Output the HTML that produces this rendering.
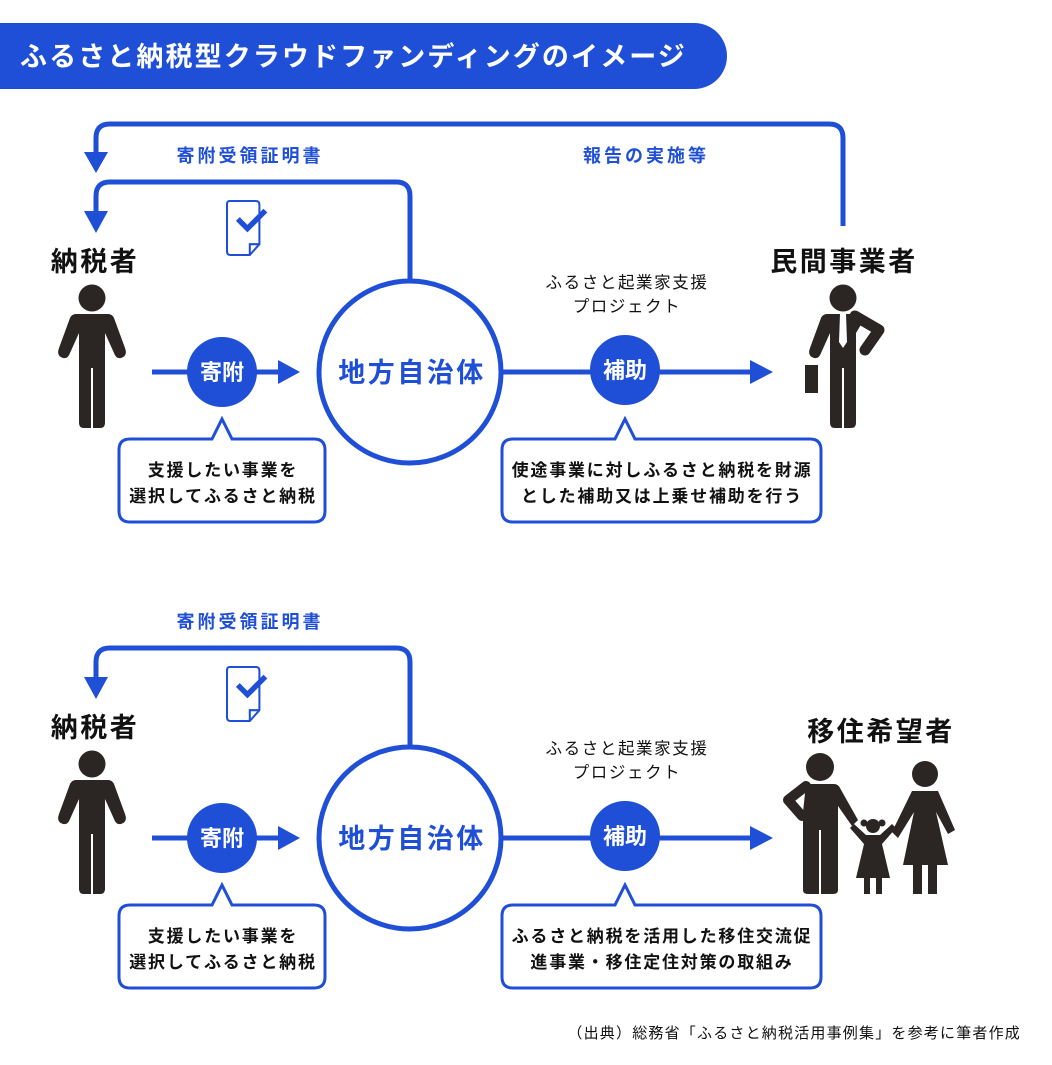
<!DOCTYPE html>
<html><head><meta charset="utf-8"><style>
html,body{margin:0;padding:0;background:#fff}
svg{display:block}
text{font-family:"Liberation Sans","Noto Sans CJK JP",sans-serif}
.b{fill:#1f4fd6;font-weight:bold}
.k{fill:#111;font-weight:bold}
.lab{font-size:18px;letter-spacing:3px}
.co{font-size:17px;letter-spacing:1.8px}
.pj{font-size:16.5px;letter-spacing:1.6px;font-weight:normal;fill:#111}
.nm{font-size:27px;letter-spacing:2.5px}
.ct{font-size:27px;letter-spacing:2.5px}
</style></head><body>
<svg width="1052" height="1065" viewBox="0 0 1052 1065" xmlns="http://www.w3.org/2000/svg">
<defs>
  <g id="doc">
    <path d="M2 0 H24 Q27 0 27 3 V36 L19 45 H3 Q0 45 0 42 V3 Q0 0 2 0Z" fill="none" stroke="#1f4fd6" stroke-width="1.7"/>
    <path d="M27 36 L19 36 L19 45" fill="none" stroke="#1f4fd6" stroke-width="1.7"/>
    <path d="M9 15 L17 23 L32 8" fill="none" stroke="#1f4fd6" stroke-width="4.5"/>
  </g>
  <g id="man" fill="#2b2523">
    <circle cx="0" cy="0" r="13.5"/>
    <path d="M-16 16 H16 Q20 16 22 20 L33 50 Q36 58 29 60 Q24 61 22 55 L13 35 V125 Q13 130 8 130 H-8 Q-13 130 -13 125 V35 L-22 55 Q-24 61 -29 60 Q-36 58 -33 50 L-22 20 Q-20 16 -16 16Z"/>
    <rect x="-1" y="70" width="2" height="60" fill="#fff"/>
  </g>
  <g id="biz" fill="#2b2523">
    <circle cx="0" cy="0" r="13.5"/>
    <path d="M-16 16 H16 Q20 16 22 20 L13 35 V125 Q13 130 8 130 H-8 Q-13 130 -13 125 V35 L-22 55 Q-24 61 -29 60 Q-36 58 -33 50 L-22 20 Q-20 16 -16 16Z"/>
    <path d="M12 18 L36 32 L22 52" fill="none" stroke="#2b2523" stroke-width="11" stroke-linecap="round" stroke-linejoin="round"/>
    <rect x="-1" y="70" width="2" height="60" fill="#fff"/>
    <path d="M-3 16 H3 L4 44 L0 50 L-4 44Z" fill="#fff"/>
    <rect x="-38" y="67" width="13" height="28"/>
  </g>
</defs>

<!-- header -->
<path d="M0 23 H694 A33 33 0 0 1 694 89 H0Z" fill="#1f4fd6"/>
<text x="20" y="66" font-size="27" font-weight="bold" fill="#fff" letter-spacing="2.1">ふるさと納税型クラウドファンディングのイメージ</text>

<!-- ===== TOP ===== -->
<g fill="none" stroke="#1f4fd6" stroke-width="5">
  <path d="M843 226 V138 Q843 124 829 124 H110 Q96 124 96 138 V155"/>
  <path d="M410 280 V196 Q410 182 396 182 H110 Q96 182 96 196 V215"/>
  <circle cx="410" cy="372" r="91"/>
  <line x1="152" y1="372" x2="282" y2="372"/>
  <line x1="502" y1="372" x2="755" y2="372"/>
</g>
<polygon points="84,152 108,152 96,173" fill="#1f4fd6"/>
<polygon points="84,211 108,211 96,233" fill="#1f4fd6"/>
<polygon points="278,360 278,384 300,372" fill="#1f4fd6"/>
<polygon points="750,360 750,384 773,372" fill="#1f4fd6"/>
<text x="250" y="162" class="b lab" text-anchor="middle">寄附受領証明書</text>
<text x="646" y="162" class="b lab" text-anchor="middle">報告の実施等</text>
<use href="#doc" transform="translate(227,201) scale(1.2)"/>
<text x="95" y="271" class="k nm" text-anchor="middle">納税者</text>
<text x="844" y="271" class="k nm" text-anchor="middle">民間事業者</text>
<use href="#man" x="92" y="298"/>
<use href="#biz" x="843" y="298"/>
<circle cx="222" cy="372" r="35" fill="#1f4fd6"/>
<text x="222" y="380" font-size="22" fill="#fff" font-weight="bold" text-anchor="middle">寄附</text>
<text x="412" y="382" class="b ct" text-anchor="middle">地方自治体</text>
<circle cx="625" cy="370" r="35" fill="#1f4fd6"/>
<text x="625" y="378" font-size="22" fill="#fff" font-weight="bold" text-anchor="middle">補助</text>
<text x="627" y="288" class="pj" text-anchor="middle">ふるさと起業家支援</text>
<text x="627" y="312" class="pj" text-anchor="middle">プロジェクト</text>
<path d="M130 439 H212 L222 419 L232 439 H314 Q325 439 325 450 V511 Q325 522 314 522 H130 Q119 522 119 511 V450 Q119 439 130 439Z" fill="#fff" stroke="#1f4fd6" stroke-width="3"/>
<text x="223" y="476" class="k co" text-anchor="middle">支援したい事業を</text>
<text x="223" y="502" class="k co" text-anchor="middle">選択してふるさと納税</text>
<path d="M513 439 H615 L625 419 L635 439 H810 Q821 439 821 450 V511 Q821 522 810 522 H513 Q502 522 502 511 V450 Q502 439 513 439Z" fill="#fff" stroke="#1f4fd6" stroke-width="3"/>
<text x="662" y="476" class="k co" text-anchor="middle">使途事業に対しふるさと納税を財源</text>
<text x="662" y="502" class="k co" text-anchor="middle">とした補助又は上乗せ補助を行う</text>

<!-- ===== BOTTOM ===== -->
<g fill="none" stroke="#1f4fd6" stroke-width="5">
  <path d="M410 746 V662 Q410 648 396 648 H110 Q96 648 96 662 V681"/>
  <circle cx="410" cy="838" r="91"/>
  <line x1="152" y1="838" x2="282" y2="838"/>
  <line x1="502" y1="838" x2="755" y2="838"/>
</g>
<polygon points="84,677 108,677 96,699" fill="#1f4fd6"/>
<polygon points="278,826 278,850 300,838" fill="#1f4fd6"/>
<polygon points="750,826 750,850 773,838" fill="#1f4fd6"/>
<text x="250" y="628" class="b lab" text-anchor="middle">寄附受領証明書</text>
<use href="#doc" transform="translate(227,667) scale(1.2)"/>
<text x="95" y="737" class="k nm" text-anchor="middle">納税者</text>
<text x="881" y="741" class="k nm" text-anchor="middle">移住希望者</text>
<use href="#man" x="92" y="764"/>
<!-- family -->
<g fill="#2b2523">
  <circle cx="820" cy="767" r="14"/>
  <path d="M806 784 H834 Q838 784 840 788 L858 820 L852 826 L838 806 V890 Q838 894 833 894 H808 Q803 894 803 890 V812"/>
  <path d="M806 786 L788 800 L802 816" fill="none" stroke="#2b2523" stroke-width="10" stroke-linecap="round" stroke-linejoin="round"/>
  <rect x="819" y="830" width="2" height="64" fill="#fff"/>
  <circle cx="873" cy="826" r="7"/>
  <circle cx="864" cy="823" r="3.5"/><circle cx="882" cy="823" r="3.5"/>
  <path d="M866 835 H880 L892 824 L896 828 L882 844 L890 878 H856 L864 844 L850 828 L854 824Z"/>
  <rect x="864" y="876" width="6" height="18"/><rect x="876" y="876" width="6" height="18"/>
  <circle cx="925" cy="774" r="13"/>
  <path d="M912 791 H938 L955 830 L948 834 L936 812 L948 865 H903 L914 812 L898 838 L892 832Z"/>
  <rect x="913" y="862" width="9" height="32"/><rect x="928" y="862" width="9" height="32"/>
</g>
<circle cx="222" cy="838" r="35" fill="#1f4fd6"/>
<text x="222" y="846" font-size="22" fill="#fff" font-weight="bold" text-anchor="middle">寄附</text>
<text x="412" y="848" class="b ct" text-anchor="middle">地方自治体</text>
<circle cx="625" cy="836" r="35" fill="#1f4fd6"/>
<text x="625" y="844" font-size="22" fill="#fff" font-weight="bold" text-anchor="middle">補助</text>
<text x="627" y="754" class="pj" text-anchor="middle">ふるさと起業家支援</text>
<text x="627" y="778" class="pj" text-anchor="middle">プロジェクト</text>
<path d="M130 905 H212 L222 885 L232 905 H314 Q325 905 325 916 V977 Q325 988 314 988 H130 Q119 988 119 977 V916 Q119 905 130 905Z" fill="#fff" stroke="#1f4fd6" stroke-width="3"/>
<text x="223" y="942" class="k co" text-anchor="middle">支援したい事業を</text>
<text x="223" y="968" class="k co" text-anchor="middle">選択してふるさと納税</text>
<path d="M513 905 H615 L625 885 L635 905 H810 Q821 905 821 916 V977 Q821 988 810 988 H513 Q502 988 502 977 V916 Q502 905 513 905Z" fill="#fff" stroke="#1f4fd6" stroke-width="3"/>
<text x="662" y="942" class="k co" text-anchor="middle">ふるさと納税を活用した移住交流促</text>
<text x="662" y="968" class="k co" text-anchor="middle">進事業・移住定住対策の取組み</text>

<text x="1021" y="1038" font-size="15" fill="#111" text-anchor="end" letter-spacing="1.2">（出典）総務省「ふるさと納税活用事例集」を参考に筆者作成</text>
</svg>
</body></html>
